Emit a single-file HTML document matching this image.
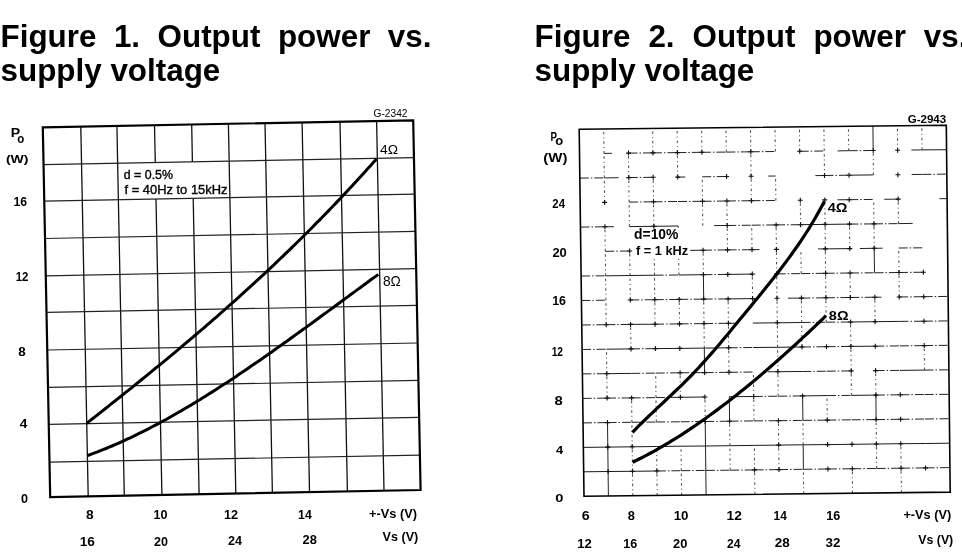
<!DOCTYPE html>
<html><head><meta charset="utf-8">
<style>
html,body{margin:0;padding:0;background:#fff;}
body{width:962px;height:556px;overflow:hidden;position:relative;}
.t{position:absolute;font-family:"Liberation Sans",Arial,sans-serif;font-weight:bold;font-size:31.4px;line-height:34.2px;color:#000;margin:0;white-space:nowrap;}
.r1{display:flex;justify-content:space-between;width:431px;}
svg{position:absolute;left:0;top:0;}
</style></head><body>
<svg width="962" height="556" viewBox="0 0 962 556">
<line x1="80.8" y1="126.6" x2="88.2" y2="496.4" stroke="#111" stroke-width="1.3"/>
<line x1="116.9" y1="125.9" x2="124.3" y2="495.7" stroke="#111" stroke-width="1.3"/>
<line x1="154.5" y1="125.2" x2="155.3" y2="162.6" stroke="#111" stroke-width="1.3"/>
<line x1="156.0" y1="199.0" x2="161.9" y2="495.0" stroke="#111" stroke-width="1.3"/>
<line x1="191.7" y1="124.5" x2="192.4" y2="161.9" stroke="#111" stroke-width="1.3"/>
<line x1="193.2" y1="198.3" x2="199.1" y2="494.2" stroke="#111" stroke-width="1.3"/>
<line x1="228.4" y1="123.8" x2="235.8" y2="493.6" stroke="#111" stroke-width="1.3"/>
<line x1="265.0" y1="123.1" x2="272.4" y2="492.9" stroke="#111" stroke-width="1.3"/>
<line x1="302.1" y1="122.4" x2="309.5" y2="492.1" stroke="#111" stroke-width="1.3"/>
<line x1="340.0" y1="121.7" x2="347.4" y2="491.4" stroke="#111" stroke-width="1.3"/>
<line x1="376.6" y1="121.0" x2="384.0" y2="490.7" stroke="#111" stroke-width="1.3"/>
<line x1="49.5" y1="462.1" x2="419.9" y2="455.1" stroke="#222" stroke-width="1.2"/>
<line x1="48.8" y1="424.3" x2="419.1" y2="417.3" stroke="#222" stroke-width="1.2"/>
<line x1="48.0" y1="387.4" x2="418.4" y2="380.4" stroke="#222" stroke-width="1.2"/>
<line x1="47.3" y1="350.0" x2="417.7" y2="343.0" stroke="#222" stroke-width="1.2"/>
<line x1="46.5" y1="312.4" x2="416.9" y2="305.4" stroke="#222" stroke-width="1.2"/>
<line x1="45.8" y1="275.8" x2="416.2" y2="268.7" stroke="#222" stroke-width="1.2"/>
<line x1="45.1" y1="238.5" x2="415.4" y2="231.4" stroke="#222" stroke-width="1.2"/>
<line x1="44.3" y1="201.1" x2="414.7" y2="194.1" stroke="#222" stroke-width="1.2"/>
<line x1="43.6" y1="164.7" x2="414.0" y2="157.7" stroke="#222" stroke-width="1.2"/>
<polygon points="42.8,127.3 413.2,120.3 420.6,490.0 50.2,497.1" fill="none" stroke="#000" stroke-width="2.2"/>
<path d="M86.8,423.3 L89.8,420.9 L92.8,418.5 L95.9,416.1 L98.9,413.8 L101.9,411.4 L104.9,409.0 L107.9,406.6 L110.9,404.2 L114.0,401.8 L117.0,399.4 L120.0,397.0 L123.0,394.6 L126.0,392.2 L129.0,389.8 L132.1,387.3 L135.1,384.9 L138.1,382.5 L141.1,380.0 L144.1,377.6 L147.2,375.1 L150.2,372.7 L153.2,370.2 L156.2,367.7 L159.2,365.3 L162.2,362.8 L165.3,360.3 L168.3,357.8 L171.3,355.3 L174.3,352.8 L177.3,350.3 L180.3,347.8 L183.4,345.2 L186.4,342.7 L189.4,340.1 L192.4,337.6 L195.4,335.0 L198.5,332.4 L201.5,329.9 L204.5,327.3 L207.5,324.7 L210.5,322.1 L213.5,319.4 L216.6,316.8 L219.6,314.2 L222.6,311.5 L225.6,308.9 L228.6,306.2 L231.6,303.5 L234.7,300.8 L237.7,298.1 L240.7,295.4 L243.7,292.7 L246.7,289.9 L249.8,287.2 L252.8,284.4 L255.8,281.7 L258.8,278.9 L261.8,276.1 L264.8,273.3 L267.9,270.4 L270.9,267.6 L273.9,264.8 L276.9,261.9 L279.9,259.0 L283.0,256.1 L286.0,253.2 L289.0,250.3 L292.0,247.4 L295.0,244.5 L298.0,241.5 L301.1,238.5 L304.1,235.5 L307.1,232.5 L310.1,229.5 L313.1,226.5 L316.1,223.4 L319.2,220.4 L322.2,217.3 L325.2,214.2 L328.2,211.1 L331.2,208.0 L334.3,204.8 L337.3,201.6 L340.3,198.5 L343.3,195.3 L346.3,192.1 L349.3,188.8 L352.4,185.6 L355.4,182.3 L358.4,179.0 L361.4,175.7 L364.4,172.4 L367.4,169.1 L370.5,165.7 L373.5,162.3 L376.5,158.9" fill="none" stroke="#000" stroke-width="3" stroke-linejoin="round"/>
<path d="M87.8,455.5 L90.8,454.4 L93.9,453.2 L96.9,452.1 L99.9,450.9 L102.9,449.7 L106.0,448.5 L109.0,447.2 L112.0,446.0 L115.0,444.7 L118.1,443.3 L121.1,442.0 L124.1,440.6 L127.1,439.2 L130.2,437.8 L133.2,436.4 L136.2,434.9 L139.2,433.4 L142.3,431.9 L145.3,430.4 L148.3,428.9 L151.3,427.3 L154.4,425.7 L157.4,424.1 L160.4,422.5 L163.5,420.8 L166.5,419.2 L169.5,417.5 L172.5,415.8 L175.6,414.0 L178.6,412.3 L181.6,410.6 L184.6,408.8 L187.7,407.0 L190.7,405.2 L193.7,403.4 L196.7,401.5 L199.8,399.7 L202.8,397.8 L205.8,395.9 L208.8,394.0 L211.9,392.1 L214.9,390.2 L217.9,388.3 L220.9,386.3 L224.0,384.3 L227.0,382.4 L230.0,380.4 L233.1,378.4 L236.1,376.4 L239.1,374.3 L242.1,372.3 L245.2,370.3 L248.2,368.2 L251.2,366.1 L254.2,364.1 L257.3,362.0 L260.3,359.9 L263.3,357.8 L266.3,355.7 L269.4,353.5 L272.4,351.4 L275.4,349.3 L278.4,347.1 L281.5,345.0 L284.5,342.8 L287.5,340.7 L290.5,338.5 L293.6,336.3 L296.6,334.1 L299.6,332.0 L302.6,329.8 L305.7,327.6 L308.7,325.4 L311.7,323.2 L314.8,321.0 L317.8,318.8 L320.8,316.5 L323.8,314.3 L326.9,312.1 L329.9,309.9 L332.9,307.7 L335.9,305.5 L339.0,303.2 L342.0,301.0 L345.0,298.8 L348.0,296.6 L351.1,294.3 L354.1,292.1 L357.1,289.9 L360.1,287.7 L363.2,285.5 L366.2,283.3 L369.2,281.0 L372.2,278.8 L375.3,276.6 L378.3,274.4" fill="none" stroke="#000" stroke-width="3" stroke-linejoin="round"/>
<line x1="583.7" y1="471.8" x2="608.1" y2="471.5" stroke="#1a1a1a" stroke-width="1.0"/>
<line x1="608.1" y1="471.5" x2="632.5" y2="471.3" stroke="#1a1a1a" stroke-width="1.0"/>
<line x1="632.5" y1="471.3" x2="656.9" y2="471.0" stroke="#1a1a1a" stroke-width="1.0"/>
<line x1="656.9" y1="471.0" x2="681.3" y2="470.7" stroke="#222" stroke-width="1.0" stroke-dasharray="9 2 1.5 2"/>
<line x1="681.3" y1="470.7" x2="705.8" y2="470.4" stroke="#222" stroke-width="1.0" stroke-dasharray="9 2 1.5 2"/>
<line x1="705.8" y1="470.4" x2="730.2" y2="470.2" stroke="#222" stroke-width="1.0" stroke-dasharray="9 2 1.5 2"/>
<line x1="730.2" y1="470.2" x2="754.6" y2="469.9" stroke="#222" stroke-width="1.0" stroke-dasharray="9 2 1.5 2"/>
<line x1="754.6" y1="469.9" x2="779.0" y2="469.6" stroke="#222" stroke-width="1.0" stroke-dasharray="9 2 1.5 2"/>
<line x1="779.0" y1="469.6" x2="803.4" y2="469.3" stroke="#222" stroke-width="1.0" stroke-dasharray="9 2 1.5 2"/>
<line x1="803.4" y1="469.3" x2="827.9" y2="469.0" stroke="#222" stroke-width="1.0" stroke-dasharray="9 2 1.5 2"/>
<line x1="827.9" y1="469.0" x2="852.3" y2="468.8" stroke="#222" stroke-width="1.0" stroke-dasharray="9 2 1.5 2"/>
<line x1="852.3" y1="468.8" x2="876.7" y2="468.5" stroke="#222" stroke-width="1.0" stroke-dasharray="9 2 1.5 2"/>
<line x1="876.7" y1="468.5" x2="901.1" y2="468.2" stroke="#222" stroke-width="1.0" stroke-dasharray="9 2 1.5 2"/>
<line x1="901.1" y1="468.2" x2="925.5" y2="467.9" stroke="#222" stroke-width="1.0" stroke-dasharray="9 2 1.5 2"/>
<line x1="925.5" y1="467.9" x2="949.9" y2="467.6" stroke="#222" stroke-width="1.0" stroke-dasharray="9 2 1.5 2"/>
<line x1="583.4" y1="447.4" x2="607.8" y2="447.1" stroke="#1a1a1a" stroke-width="1.0"/>
<line x1="607.8" y1="447.1" x2="632.2" y2="446.8" stroke="#1a1a1a" stroke-width="1.0"/>
<line x1="632.2" y1="446.8" x2="656.6" y2="446.5" stroke="#1a1a1a" stroke-width="1.0"/>
<line x1="656.6" y1="446.5" x2="681.0" y2="446.2" stroke="#1a1a1a" stroke-width="1.0"/>
<line x1="681.0" y1="446.2" x2="705.5" y2="446.0" stroke="#1a1a1a" stroke-width="1.0"/>
<line x1="705.5" y1="446.0" x2="729.9" y2="445.7" stroke="#1a1a1a" stroke-width="1.0"/>
<line x1="729.9" y1="445.7" x2="754.3" y2="445.4" stroke="#1a1a1a" stroke-width="1.0"/>
<line x1="754.3" y1="445.4" x2="778.7" y2="445.1" stroke="#1a1a1a" stroke-width="1.0"/>
<line x1="778.7" y1="445.1" x2="803.2" y2="444.8" stroke="#1a1a1a" stroke-width="1.0"/>
<line x1="803.2" y1="444.8" x2="827.6" y2="444.6" stroke="#1a1a1a" stroke-width="1.0"/>
<line x1="827.6" y1="444.6" x2="852.0" y2="444.3" stroke="#1a1a1a" stroke-width="1.0"/>
<line x1="852.0" y1="444.3" x2="876.4" y2="444.0" stroke="#1a1a1a" stroke-width="1.0"/>
<line x1="876.4" y1="444.0" x2="900.8" y2="443.7" stroke="#1a1a1a" stroke-width="1.0"/>
<line x1="900.8" y1="443.7" x2="925.3" y2="443.5" stroke="#1a1a1a" stroke-width="1.0"/>
<line x1="925.3" y1="443.5" x2="949.7" y2="443.2" stroke="#1a1a1a" stroke-width="1.0"/>
<line x1="583.0" y1="422.9" x2="607.5" y2="422.6" stroke="#222" stroke-width="1.0" stroke-dasharray="9 2 1.5 2"/>
<line x1="607.5" y1="422.6" x2="631.9" y2="422.3" stroke="#222" stroke-width="1.0" stroke-dasharray="9 2 1.5 2"/>
<line x1="631.9" y1="422.3" x2="656.3" y2="422.0" stroke="#222" stroke-width="1.0" stroke-dasharray="9 2 1.5 2"/>
<line x1="656.3" y1="422.0" x2="680.7" y2="421.8" stroke="#222" stroke-width="1.0" stroke-dasharray="9 2 1.5 2"/>
<line x1="680.7" y1="421.8" x2="705.2" y2="421.5" stroke="#222" stroke-width="1.0" stroke-dasharray="9 2 1.5 2"/>
<line x1="705.2" y1="421.5" x2="729.6" y2="421.2" stroke="#222" stroke-width="1.0" stroke-dasharray="9 2 1.5 2"/>
<line x1="729.6" y1="421.2" x2="754.0" y2="420.9" stroke="#222" stroke-width="1.0" stroke-dasharray="9 2 1.5 2"/>
<line x1="754.0" y1="420.9" x2="778.4" y2="420.7" stroke="#222" stroke-width="1.0" stroke-dasharray="9 2 1.5 2"/>
<line x1="778.4" y1="420.7" x2="802.9" y2="420.4" stroke="#222" stroke-width="1.0" stroke-dasharray="9 2 1.5 2"/>
<line x1="802.9" y1="420.4" x2="827.3" y2="420.1" stroke="#222" stroke-width="1.0" stroke-dasharray="9 2 1.5 2"/>
<line x1="827.3" y1="420.1" x2="851.7" y2="419.8" stroke="#222" stroke-width="1.0" stroke-dasharray="9 2 1.5 2"/>
<line x1="851.7" y1="419.8" x2="876.1" y2="419.6" stroke="#222" stroke-width="1.0" stroke-dasharray="9 2 1.5 2"/>
<line x1="876.1" y1="419.6" x2="900.6" y2="419.3" stroke="#222" stroke-width="1.0" stroke-dasharray="9 2 1.5 2"/>
<line x1="900.6" y1="419.3" x2="925.0" y2="419.0" stroke="#222" stroke-width="1.0" stroke-dasharray="9 2 1.5 2"/>
<line x1="925.0" y1="419.0" x2="949.4" y2="418.7" stroke="#222" stroke-width="1.0" stroke-dasharray="9 2 1.5 2"/>
<line x1="582.7" y1="398.4" x2="607.1" y2="398.1" stroke="#222" stroke-width="1.0" stroke-dasharray="9 2 1.5 2"/>
<line x1="607.1" y1="398.1" x2="631.6" y2="397.9" stroke="#222" stroke-width="1.0" stroke-dasharray="9 2 1.5 2"/>
<line x1="631.6" y1="397.9" x2="656.0" y2="397.6" stroke="#222" stroke-width="1.0" stroke-dasharray="9 2 1.5 2"/>
<line x1="656.0" y1="397.6" x2="680.4" y2="397.3" stroke="#222" stroke-width="1.0" stroke-dasharray="9 2 1.5 2"/>
<line x1="680.4" y1="397.3" x2="704.9" y2="397.0" stroke="#1a1a1a" stroke-width="1.0"/>
<line x1="729.3" y1="396.7" x2="753.7" y2="396.5" stroke="#1a1a1a" stroke-width="1.0"/>
<line x1="753.7" y1="396.5" x2="778.2" y2="396.2" stroke="#222" stroke-width="1.0" stroke-dasharray="9 2 1.5 2"/>
<line x1="778.2" y1="396.2" x2="802.6" y2="395.9" stroke="#222" stroke-width="1.0" stroke-dasharray="9 2 1.5 2"/>
<line x1="802.6" y1="395.9" x2="827.0" y2="395.6" stroke="#1a1a1a" stroke-width="1.0"/>
<line x1="827.0" y1="395.6" x2="851.4" y2="395.4" stroke="#222" stroke-width="1.0" stroke-dasharray="9 2 1.5 2"/>
<line x1="851.4" y1="395.4" x2="875.9" y2="395.1" stroke="#1a1a1a" stroke-width="1.0"/>
<line x1="875.9" y1="395.1" x2="900.3" y2="394.8" stroke="#222" stroke-width="1.0" stroke-dasharray="9 2 1.5 2"/>
<line x1="900.3" y1="394.8" x2="924.7" y2="394.5" stroke="#222" stroke-width="1.0" stroke-dasharray="9 2 1.5 2"/>
<line x1="924.7" y1="394.5" x2="949.2" y2="394.3" stroke="#222" stroke-width="1.0" stroke-dasharray="9 2 1.5 2"/>
<line x1="582.4" y1="373.9" x2="606.8" y2="373.7" stroke="#222" stroke-width="1.0" stroke-dasharray="9 2 1.5 2"/>
<line x1="606.8" y1="373.7" x2="631.3" y2="373.4" stroke="#1a1a1a" stroke-width="1.0"/>
<line x1="631.3" y1="373.4" x2="655.7" y2="373.1" stroke="#222" stroke-width="1.0" stroke-dasharray="9 2 1.5 2"/>
<line x1="655.7" y1="373.1" x2="680.1" y2="372.8" stroke="#222" stroke-width="1.0" stroke-dasharray="9 2 1.5 2"/>
<line x1="680.1" y1="372.8" x2="704.6" y2="372.6" stroke="#222" stroke-width="1.0" stroke-dasharray="9 2 1.5 2"/>
<line x1="704.6" y1="372.6" x2="729.0" y2="372.3" stroke="#222" stroke-width="1.0" stroke-dasharray="9 2 1.5 2"/>
<line x1="729.0" y1="372.3" x2="753.4" y2="372.0" stroke="#222" stroke-width="1.0" stroke-dasharray="9 2 1.5 2"/>
<line x1="767.7" y1="371.8" x2="777.9" y2="371.7" stroke="#222" stroke-width="1.0"/>
<line x1="777.9" y1="371.7" x2="802.3" y2="371.5" stroke="#1a1a1a" stroke-width="1.0"/>
<line x1="802.3" y1="371.5" x2="826.7" y2="371.2" stroke="#222" stroke-width="1.0" stroke-dasharray="9 2 1.5 2"/>
<line x1="826.7" y1="371.2" x2="851.2" y2="370.9" stroke="#222" stroke-width="1.0" stroke-dasharray="9 2 1.5 2"/>
<line x1="875.6" y1="370.6" x2="900.0" y2="370.4" stroke="#222" stroke-width="1.0" stroke-dasharray="9 2 1.5 2"/>
<line x1="900.0" y1="370.4" x2="924.5" y2="370.1" stroke="#1a1a1a" stroke-width="1.0"/>
<line x1="924.5" y1="370.1" x2="948.9" y2="369.8" stroke="#222" stroke-width="1.0" stroke-dasharray="9 2 1.5 2"/>
<line x1="582.1" y1="349.5" x2="606.5" y2="349.2" stroke="#222" stroke-width="1.0" stroke-dasharray="9 2 1.5 2"/>
<line x1="606.5" y1="349.2" x2="631.0" y2="348.9" stroke="#1a1a1a" stroke-width="1.0"/>
<line x1="631.0" y1="348.9" x2="655.4" y2="348.6" stroke="#222" stroke-width="1.0" stroke-dasharray="9 2 1.5 2"/>
<line x1="655.4" y1="348.6" x2="679.8" y2="348.4" stroke="#1a1a1a" stroke-width="1.0"/>
<line x1="679.8" y1="348.4" x2="704.3" y2="348.1" stroke="#1a1a1a" stroke-width="1.0"/>
<line x1="704.3" y1="348.1" x2="728.7" y2="347.8" stroke="#1a1a1a" stroke-width="1.0"/>
<line x1="728.7" y1="347.8" x2="753.1" y2="347.5" stroke="#222" stroke-width="1.0" stroke-dasharray="9 2 1.5 2"/>
<line x1="753.1" y1="347.5" x2="777.6" y2="347.3" stroke="#1a1a1a" stroke-width="1.0"/>
<line x1="777.6" y1="347.3" x2="802.0" y2="347.0" stroke="#1a1a1a" stroke-width="1.0"/>
<line x1="802.0" y1="347.0" x2="826.5" y2="346.7" stroke="#222" stroke-width="1.0" stroke-dasharray="9 2 1.5 2"/>
<line x1="826.5" y1="346.7" x2="850.9" y2="346.4" stroke="#222" stroke-width="1.0" stroke-dasharray="9 2 1.5 2"/>
<line x1="850.9" y1="346.4" x2="875.3" y2="346.2" stroke="#1a1a1a" stroke-width="1.0"/>
<line x1="875.3" y1="346.2" x2="899.8" y2="345.9" stroke="#222" stroke-width="1.0" stroke-dasharray="9 2 1.5 2"/>
<line x1="899.8" y1="345.9" x2="924.2" y2="345.6" stroke="#222" stroke-width="1.0" stroke-dasharray="9 2 1.5 2"/>
<line x1="924.2" y1="345.6" x2="948.6" y2="345.3" stroke="#222" stroke-width="1.0" stroke-dasharray="9 2 1.5 2"/>
<line x1="581.8" y1="325.0" x2="606.2" y2="324.7" stroke="#222" stroke-width="1.0" stroke-dasharray="9 2 1.5 2"/>
<line x1="606.2" y1="324.7" x2="630.6" y2="324.4" stroke="#222" stroke-width="1.0" stroke-dasharray="9 2 1.5 2"/>
<line x1="630.6" y1="324.4" x2="655.1" y2="324.2" stroke="#1a1a1a" stroke-width="1.0"/>
<line x1="655.1" y1="324.2" x2="679.5" y2="323.9" stroke="#222" stroke-width="1.0" stroke-dasharray="9 2 1.5 2"/>
<line x1="679.5" y1="323.9" x2="704.0" y2="323.6" stroke="#222" stroke-width="1.0" stroke-dasharray="9 2 1.5 2"/>
<line x1="704.0" y1="323.6" x2="728.4" y2="323.3" stroke="#222" stroke-width="1.0" stroke-dasharray="9 2 1.5 2"/>
<line x1="728.4" y1="323.3" x2="735.8" y2="323.3" stroke="#222" stroke-width="1.0"/>
<line x1="752.8" y1="323.1" x2="777.3" y2="322.8" stroke="#1a1a1a" stroke-width="1.0"/>
<line x1="777.3" y1="322.8" x2="801.7" y2="322.5" stroke="#1a1a1a" stroke-width="1.0"/>
<line x1="801.7" y1="322.5" x2="826.2" y2="322.2" stroke="#222" stroke-width="1.0" stroke-dasharray="9 2 1.5 2"/>
<line x1="826.2" y1="322.2" x2="850.6" y2="322.0" stroke="#222" stroke-width="1.0" stroke-dasharray="9 2 1.5 2"/>
<line x1="850.6" y1="322.0" x2="875.1" y2="321.7" stroke="#1a1a1a" stroke-width="1.0"/>
<line x1="875.1" y1="321.7" x2="899.5" y2="321.4" stroke="#1a1a1a" stroke-width="1.0"/>
<line x1="899.5" y1="321.4" x2="923.9" y2="321.2" stroke="#222" stroke-width="1.0" stroke-dasharray="9 2 1.5 2"/>
<line x1="923.9" y1="321.2" x2="948.4" y2="320.9" stroke="#222" stroke-width="1.0" stroke-dasharray="9 2 1.5 2"/>
<line x1="581.4" y1="300.5" x2="605.9" y2="300.2" stroke="#222" stroke-width="1.0" stroke-dasharray="9 2 1.5 2"/>
<line x1="630.3" y1="300.0" x2="654.8" y2="299.7" stroke="#222" stroke-width="1.0" stroke-dasharray="9 2 1.5 2"/>
<line x1="654.8" y1="299.7" x2="679.2" y2="299.4" stroke="#222" stroke-width="1.0" stroke-dasharray="9 2 1.5 2"/>
<line x1="679.2" y1="299.4" x2="703.7" y2="299.1" stroke="#222" stroke-width="1.0" stroke-dasharray="9 2 1.5 2"/>
<line x1="703.7" y1="299.1" x2="728.1" y2="298.9" stroke="#222" stroke-width="1.0" stroke-dasharray="9 2 1.5 2"/>
<line x1="728.1" y1="298.9" x2="752.6" y2="298.6" stroke="#1a1a1a" stroke-width="1.0"/>
<line x1="787.9" y1="298.2" x2="801.4" y2="298.1" stroke="#222" stroke-width="1.0"/>
<line x1="801.4" y1="298.1" x2="825.9" y2="297.8" stroke="#222" stroke-width="1.0" stroke-dasharray="9 2 1.5 2"/>
<line x1="825.9" y1="297.8" x2="850.3" y2="297.5" stroke="#222" stroke-width="1.0" stroke-dasharray="9 2 1.5 2"/>
<line x1="850.3" y1="297.5" x2="874.8" y2="297.2" stroke="#222" stroke-width="1.0" stroke-dasharray="9 2 1.5 2"/>
<line x1="874.8" y1="297.2" x2="881.4" y2="297.2" stroke="#222" stroke-width="1.0"/>
<line x1="899.2" y1="297.0" x2="923.7" y2="296.7" stroke="#222" stroke-width="1.0" stroke-dasharray="9 2 1.5 2"/>
<line x1="923.7" y1="296.7" x2="948.1" y2="296.4" stroke="#222" stroke-width="1.0" stroke-dasharray="9 2 1.5 2"/>
<line x1="581.1" y1="276.0" x2="605.6" y2="275.8" stroke="#222" stroke-width="1.0" stroke-dasharray="9 2 1.5 2"/>
<line x1="605.6" y1="275.8" x2="630.0" y2="275.5" stroke="#1a1a1a" stroke-width="1.0"/>
<line x1="630.0" y1="275.5" x2="654.5" y2="275.2" stroke="#1a1a1a" stroke-width="1.0"/>
<line x1="654.5" y1="275.2" x2="678.9" y2="275.0" stroke="#222" stroke-width="1.0" stroke-dasharray="9 2 1.5 2"/>
<line x1="678.9" y1="275.0" x2="703.4" y2="274.7" stroke="#1a1a1a" stroke-width="1.0"/>
<line x1="703.4" y1="274.7" x2="727.8" y2="274.4" stroke="#222" stroke-width="1.0" stroke-dasharray="9 2 1.5 2"/>
<line x1="727.8" y1="274.4" x2="752.3" y2="274.1" stroke="#1a1a1a" stroke-width="1.0"/>
<line x1="776.7" y1="273.9" x2="801.2" y2="273.6" stroke="#222" stroke-width="1.0" stroke-dasharray="9 2 1.5 2"/>
<line x1="801.2" y1="273.6" x2="825.6" y2="273.3" stroke="#222" stroke-width="1.0" stroke-dasharray="9 2 1.5 2"/>
<line x1="825.6" y1="273.3" x2="850.1" y2="273.0" stroke="#222" stroke-width="1.0" stroke-dasharray="9 2 1.5 2"/>
<line x1="850.1" y1="273.0" x2="874.5" y2="272.8" stroke="#222" stroke-width="1.0" stroke-dasharray="9 2 1.5 2"/>
<line x1="874.5" y1="272.8" x2="899.0" y2="272.5" stroke="#222" stroke-width="1.0" stroke-dasharray="9 2 1.5 2"/>
<line x1="899.0" y1="272.5" x2="923.4" y2="272.2" stroke="#222" stroke-width="1.0" stroke-dasharray="9 2 1.5 2"/>
<line x1="605.3" y1="251.3" x2="629.7" y2="251.0" stroke="#222" stroke-width="1.0" stroke-dasharray="9 2 1.5 2"/>
<line x1="690.2" y1="250.4" x2="703.1" y2="250.2" stroke="#1a1a1a" stroke-width="1.0"/>
<line x1="703.1" y1="250.2" x2="727.5" y2="249.9" stroke="#222" stroke-width="1.0" stroke-dasharray="9 2 1.5 2"/>
<line x1="727.5" y1="249.9" x2="752.0" y2="249.7" stroke="#222" stroke-width="1.0" stroke-dasharray="9 2 1.5 2"/>
<line x1="752.0" y1="249.7" x2="759.5" y2="249.6" stroke="#222" stroke-width="1.0"/>
<line x1="818.0" y1="248.9" x2="825.3" y2="248.9" stroke="#222" stroke-width="1.0"/>
<line x1="825.3" y1="248.9" x2="849.8" y2="248.6" stroke="#1a1a1a" stroke-width="1.0"/>
<line x1="859.8" y1="248.5" x2="874.2" y2="248.3" stroke="#222" stroke-width="1.0"/>
<line x1="874.2" y1="248.3" x2="882.6" y2="248.2" stroke="#222" stroke-width="1.0"/>
<line x1="898.7" y1="248.0" x2="923.1" y2="247.8" stroke="#222" stroke-width="1.0" stroke-dasharray="9 2 1.5 2"/>
<line x1="580.5" y1="227.1" x2="604.9" y2="226.8" stroke="#222" stroke-width="1.0" stroke-dasharray="9 2 1.5 2"/>
<line x1="604.9" y1="226.8" x2="613.9" y2="226.7" stroke="#222" stroke-width="1.0"/>
<line x1="629.4" y1="226.6" x2="653.9" y2="226.3" stroke="#1a1a1a" stroke-width="1.0"/>
<line x1="653.9" y1="226.3" x2="678.3" y2="226.0" stroke="#1a1a1a" stroke-width="1.0"/>
<line x1="714.1" y1="225.6" x2="727.2" y2="225.5" stroke="#222" stroke-width="1.0"/>
<line x1="727.2" y1="225.5" x2="751.7" y2="225.2" stroke="#222" stroke-width="1.0" stroke-dasharray="9 2 1.5 2"/>
<line x1="751.7" y1="225.2" x2="776.1" y2="224.9" stroke="#222" stroke-width="1.0" stroke-dasharray="9 2 1.5 2"/>
<line x1="776.1" y1="224.9" x2="800.6" y2="224.7" stroke="#222" stroke-width="1.0" stroke-dasharray="9 2 1.5 2"/>
<line x1="800.6" y1="224.7" x2="825.1" y2="224.4" stroke="#1a1a1a" stroke-width="1.0"/>
<line x1="825.1" y1="224.4" x2="849.5" y2="224.1" stroke="#1a1a1a" stroke-width="1.0"/>
<line x1="849.5" y1="224.1" x2="874.0" y2="223.9" stroke="#222" stroke-width="1.0" stroke-dasharray="9 2 1.5 2"/>
<line x1="874.0" y1="223.9" x2="898.4" y2="223.6" stroke="#222" stroke-width="1.0" stroke-dasharray="9 2 1.5 2"/>
<line x1="898.4" y1="223.6" x2="912.7" y2="223.4" stroke="#222" stroke-width="1.0"/>
<line x1="629.1" y1="202.1" x2="653.5" y2="201.8" stroke="#222" stroke-width="1.0" stroke-dasharray="9 2 1.5 2"/>
<line x1="653.5" y1="201.8" x2="678.0" y2="201.5" stroke="#222" stroke-width="1.0" stroke-dasharray="9 2 1.5 2"/>
<line x1="678.0" y1="201.5" x2="702.5" y2="201.3" stroke="#222" stroke-width="1.0" stroke-dasharray="9 2 1.5 2"/>
<line x1="702.5" y1="201.3" x2="726.9" y2="201.0" stroke="#222" stroke-width="1.0" stroke-dasharray="9 2 1.5 2"/>
<line x1="726.9" y1="201.0" x2="751.4" y2="200.7" stroke="#222" stroke-width="1.0" stroke-dasharray="9 2 1.5 2"/>
<line x1="751.4" y1="200.7" x2="775.9" y2="200.5" stroke="#222" stroke-width="1.0" stroke-dasharray="9 2 1.5 2"/>
<line x1="837.5" y1="199.8" x2="849.2" y2="199.7" stroke="#222" stroke-width="1.0"/>
<line x1="849.2" y1="199.7" x2="873.7" y2="199.4" stroke="#222" stroke-width="1.0" stroke-dasharray="9 2 1.5 2"/>
<line x1="884.3" y1="199.3" x2="898.2" y2="199.1" stroke="#222" stroke-width="1.0"/>
<line x1="939.4" y1="198.7" x2="947.1" y2="198.6" stroke="#222" stroke-width="1.0"/>
<line x1="579.8" y1="178.1" x2="604.3" y2="177.9" stroke="#222" stroke-width="1.0" stroke-dasharray="9 2 1.5 2"/>
<line x1="604.3" y1="177.9" x2="618.7" y2="177.7" stroke="#222" stroke-width="1.0"/>
<line x1="628.8" y1="177.6" x2="653.2" y2="177.3" stroke="#222" stroke-width="1.0" stroke-dasharray="9 2 1.5 2"/>
<line x1="677.7" y1="177.1" x2="685.3" y2="177.0" stroke="#222" stroke-width="1.0"/>
<line x1="702.2" y1="176.8" x2="726.6" y2="176.5" stroke="#222" stroke-width="1.0" stroke-dasharray="9 2 1.5 2"/>
<line x1="768.2" y1="176.1" x2="775.6" y2="176.0" stroke="#222" stroke-width="1.0"/>
<line x1="815.4" y1="175.6" x2="824.5" y2="175.5" stroke="#222" stroke-width="1.0"/>
<line x1="824.5" y1="175.5" x2="849.0" y2="175.2" stroke="#222" stroke-width="1.0" stroke-dasharray="9 2 1.5 2"/>
<line x1="849.0" y1="175.2" x2="873.4" y2="174.9" stroke="#1a1a1a" stroke-width="1.0"/>
<line x1="911.7" y1="174.5" x2="922.4" y2="174.4" stroke="#222" stroke-width="1.0"/>
<line x1="922.4" y1="174.4" x2="946.8" y2="174.1" stroke="#222" stroke-width="1.0" stroke-dasharray="9 2 1.5 2"/>
<line x1="604.0" y1="153.4" x2="611.9" y2="153.3" stroke="#222" stroke-width="1.0"/>
<line x1="628.5" y1="153.1" x2="652.9" y2="152.9" stroke="#222" stroke-width="1.0" stroke-dasharray="9 2 1.5 2"/>
<line x1="652.9" y1="152.9" x2="677.4" y2="152.6" stroke="#222" stroke-width="1.0" stroke-dasharray="9 2 1.5 2"/>
<line x1="677.4" y1="152.6" x2="701.9" y2="152.3" stroke="#222" stroke-width="1.0" stroke-dasharray="9 2 1.5 2"/>
<line x1="701.9" y1="152.3" x2="726.3" y2="152.1" stroke="#222" stroke-width="1.0" stroke-dasharray="9 2 1.5 2"/>
<line x1="726.3" y1="152.1" x2="750.8" y2="151.8" stroke="#222" stroke-width="1.0" stroke-dasharray="9 2 1.5 2"/>
<line x1="750.8" y1="151.8" x2="775.3" y2="151.5" stroke="#222" stroke-width="1.0" stroke-dasharray="9 2 1.5 2"/>
<line x1="799.7" y1="151.3" x2="824.2" y2="151.0" stroke="#222" stroke-width="1.0" stroke-dasharray="9 2 1.5 2"/>
<line x1="837.6" y1="150.9" x2="848.7" y2="150.7" stroke="#222" stroke-width="1.0"/>
<line x1="848.7" y1="150.7" x2="873.2" y2="150.5" stroke="#222" stroke-width="1.0" stroke-dasharray="9 2 1.5 2"/>
<line x1="911.4" y1="150.0" x2="922.1" y2="149.9" stroke="#222" stroke-width="1.0"/>
<line x1="922.1" y1="149.9" x2="946.6" y2="149.7" stroke="#1a1a1a" stroke-width="1.0"/>
<line x1="608.4" y1="496.0" x2="608.1" y2="471.5" stroke="#222" stroke-width="1.0"/>
<line x1="608.1" y1="471.5" x2="607.8" y2="447.1" stroke="#222" stroke-width="1.0"/>
<line x1="607.8" y1="447.1" x2="607.5" y2="422.6" stroke="#222" stroke-width="1.0"/>
<line x1="607.1" y1="398.1" x2="606.8" y2="373.7" stroke="#444" stroke-width="1.0" stroke-dasharray="2.5 3 1 3"/>
<line x1="606.8" y1="373.7" x2="606.5" y2="349.2" stroke="#444" stroke-width="1.0" stroke-dasharray="2.5 3 1 3"/>
<line x1="606.2" y1="324.7" x2="605.9" y2="300.2" stroke="#444" stroke-width="1.0" stroke-dasharray="2.5 3 1 3"/>
<line x1="605.9" y1="300.2" x2="605.6" y2="275.8" stroke="#444" stroke-width="1.0" stroke-dasharray="2.5 3 1 3"/>
<line x1="605.6" y1="275.8" x2="605.3" y2="251.3" stroke="#444" stroke-width="1.0" stroke-dasharray="2.5 3 1 3"/>
<line x1="605.3" y1="251.3" x2="604.9" y2="226.8" stroke="#444" stroke-width="1.0" stroke-dasharray="2.5 3 1 3"/>
<line x1="604.6" y1="202.4" x2="604.3" y2="177.9" stroke="#444" stroke-width="1.0" stroke-dasharray="2.5 3 1 3"/>
<line x1="604.3" y1="177.9" x2="604.0" y2="153.4" stroke="#444" stroke-width="1.0" stroke-dasharray="2.5 3 1 3"/>
<line x1="604.0" y1="153.4" x2="603.7" y2="128.9" stroke="#444" stroke-width="1.0" stroke-dasharray="2.5 3 1 3"/>
<line x1="632.8" y1="495.7" x2="632.5" y2="471.3" stroke="#444" stroke-width="1.0" stroke-dasharray="2.5 3 1 3"/>
<line x1="632.5" y1="471.3" x2="632.2" y2="446.8" stroke="#444" stroke-width="1.0" stroke-dasharray="2.5 3 1 3"/>
<line x1="632.2" y1="446.8" x2="631.9" y2="422.3" stroke="#444" stroke-width="1.0" stroke-dasharray="2.5 3 1 3"/>
<line x1="631.9" y1="422.3" x2="631.6" y2="397.9" stroke="#444" stroke-width="1.0" stroke-dasharray="2.5 3 1 3"/>
<line x1="631.0" y1="348.9" x2="630.6" y2="324.4" stroke="#444" stroke-width="1.0" stroke-dasharray="2.5 3 1 3"/>
<line x1="630.3" y1="300.0" x2="630.0" y2="275.5" stroke="#444" stroke-width="1.0" stroke-dasharray="2.5 3 1 3"/>
<line x1="630.0" y1="275.5" x2="629.7" y2="251.0" stroke="#444" stroke-width="1.0" stroke-dasharray="2.5 3 1 3"/>
<line x1="629.4" y1="226.6" x2="629.1" y2="202.1" stroke="#444" stroke-width="1.0" stroke-dasharray="2.5 3 1 3"/>
<line x1="629.1" y1="202.1" x2="628.8" y2="177.6" stroke="#444" stroke-width="1.0" stroke-dasharray="2.5 3 1 3"/>
<line x1="628.8" y1="177.6" x2="628.5" y2="153.1" stroke="#444" stroke-width="1.0" stroke-dasharray="2.5 3 1 3"/>
<line x1="657.2" y1="495.5" x2="656.9" y2="471.0" stroke="#444" stroke-width="1.0" stroke-dasharray="2.5 3 1 3"/>
<line x1="656.9" y1="471.0" x2="656.6" y2="446.5" stroke="#444" stroke-width="1.0" stroke-dasharray="2.5 3 1 3"/>
<line x1="656.3" y1="422.0" x2="656.0" y2="397.6" stroke="#444" stroke-width="1.0" stroke-dasharray="2.5 3 1 3"/>
<line x1="656.0" y1="397.6" x2="655.7" y2="373.1" stroke="#444" stroke-width="1.0" stroke-dasharray="2.5 3 1 3"/>
<line x1="655.1" y1="324.2" x2="654.8" y2="299.7" stroke="#444" stroke-width="1.0" stroke-dasharray="2.5 3 1 3"/>
<line x1="654.8" y1="299.7" x2="654.5" y2="275.2" stroke="#444" stroke-width="1.0" stroke-dasharray="2.5 3 1 3"/>
<line x1="654.5" y1="275.2" x2="654.3" y2="258.1" stroke="#444" stroke-width="1.0" stroke-dasharray="2.5 3 1 3"/>
<line x1="653.9" y1="227.5" x2="653.9" y2="226.3" stroke="#444" stroke-width="1.0" stroke-dasharray="2.5 3 1 3"/>
<line x1="653.9" y1="226.3" x2="653.5" y2="201.8" stroke="#444" stroke-width="1.0" stroke-dasharray="2.5 3 1 3"/>
<line x1="653.5" y1="201.8" x2="653.2" y2="177.3" stroke="#444" stroke-width="1.0" stroke-dasharray="2.5 3 1 3"/>
<line x1="652.9" y1="152.9" x2="652.6" y2="128.4" stroke="#444" stroke-width="1.0" stroke-dasharray="2.5 3 1 3"/>
<line x1="681.7" y1="495.2" x2="681.3" y2="470.7" stroke="#444" stroke-width="1.0" stroke-dasharray="2.5 3 1 3"/>
<line x1="681.3" y1="470.7" x2="681.0" y2="446.2" stroke="#444" stroke-width="1.0" stroke-dasharray="2.5 3 1 3"/>
<line x1="680.4" y1="397.3" x2="680.1" y2="372.8" stroke="#444" stroke-width="1.0" stroke-dasharray="2.5 3 1 3"/>
<line x1="679.5" y1="323.9" x2="679.2" y2="299.4" stroke="#444" stroke-width="1.0" stroke-dasharray="2.5 3 1 3"/>
<line x1="678.9" y1="275.0" x2="678.7" y2="258.4" stroke="#444" stroke-width="1.0" stroke-dasharray="2.5 3 1 3"/>
<line x1="678.3" y1="227.8" x2="678.3" y2="226.0" stroke="#444" stroke-width="1.0" stroke-dasharray="2.5 3 1 3"/>
<line x1="677.7" y1="177.1" x2="677.4" y2="152.6" stroke="#444" stroke-width="1.0" stroke-dasharray="2.5 3 1 3"/>
<line x1="677.4" y1="152.6" x2="677.1" y2="128.1" stroke="#444" stroke-width="1.0" stroke-dasharray="2.5 3 1 3"/>
<line x1="706.1" y1="494.9" x2="705.8" y2="470.4" stroke="#222" stroke-width="1.0"/>
<line x1="705.8" y1="470.4" x2="705.5" y2="446.0" stroke="#222" stroke-width="1.0"/>
<line x1="705.5" y1="446.0" x2="705.2" y2="421.5" stroke="#222" stroke-width="1.0"/>
<line x1="705.2" y1="421.5" x2="704.9" y2="397.0" stroke="#444" stroke-width="1.0" stroke-dasharray="2.5 3 1 3"/>
<line x1="704.6" y1="372.6" x2="704.3" y2="348.1" stroke="#222" stroke-width="1.0"/>
<line x1="704.3" y1="348.1" x2="704.0" y2="323.6" stroke="#444" stroke-width="1.0" stroke-dasharray="2.5 3 1 3"/>
<line x1="704.0" y1="323.6" x2="703.7" y2="299.1" stroke="#444" stroke-width="1.0" stroke-dasharray="2.5 3 1 3"/>
<line x1="703.7" y1="299.1" x2="703.4" y2="274.7" stroke="#222" stroke-width="1.0"/>
<line x1="703.4" y1="274.7" x2="703.1" y2="250.2" stroke="#444" stroke-width="1.0" stroke-dasharray="2.5 3 1 3"/>
<line x1="702.8" y1="225.7" x2="702.5" y2="201.3" stroke="#444" stroke-width="1.0" stroke-dasharray="2.5 3 1 3"/>
<line x1="702.5" y1="201.3" x2="702.2" y2="176.8" stroke="#444" stroke-width="1.0" stroke-dasharray="2.5 3 1 3"/>
<line x1="701.9" y1="152.3" x2="701.6" y2="127.9" stroke="#444" stroke-width="1.0" stroke-dasharray="2.5 3 1 3"/>
<line x1="730.2" y1="470.2" x2="729.9" y2="445.7" stroke="#444" stroke-width="1.0" stroke-dasharray="2.5 3 1 3"/>
<line x1="729.9" y1="445.7" x2="729.6" y2="421.2" stroke="#444" stroke-width="1.0" stroke-dasharray="2.5 3 1 3"/>
<line x1="729.6" y1="421.2" x2="729.3" y2="396.7" stroke="#222" stroke-width="1.0"/>
<line x1="729.0" y1="372.3" x2="728.7" y2="347.8" stroke="#444" stroke-width="1.0" stroke-dasharray="2.5 3 1 3"/>
<line x1="728.7" y1="347.8" x2="728.4" y2="323.3" stroke="#444" stroke-width="1.0" stroke-dasharray="2.5 3 1 3"/>
<line x1="728.4" y1="323.3" x2="728.1" y2="298.9" stroke="#444" stroke-width="1.0" stroke-dasharray="2.5 3 1 3"/>
<line x1="727.5" y1="249.9" x2="727.2" y2="225.5" stroke="#444" stroke-width="1.0" stroke-dasharray="2.5 3 1 3"/>
<line x1="727.2" y1="225.5" x2="726.9" y2="201.0" stroke="#444" stroke-width="1.0" stroke-dasharray="2.5 3 1 3"/>
<line x1="726.3" y1="152.1" x2="726.0" y2="127.6" stroke="#444" stroke-width="1.0" stroke-dasharray="2.5 3 1 3"/>
<line x1="754.9" y1="494.3" x2="754.6" y2="469.9" stroke="#444" stroke-width="1.0" stroke-dasharray="2.5 3 1 3"/>
<line x1="754.6" y1="469.9" x2="754.3" y2="445.4" stroke="#444" stroke-width="1.0" stroke-dasharray="2.5 3 1 3"/>
<line x1="754.0" y1="420.9" x2="753.7" y2="396.5" stroke="#444" stroke-width="1.0" stroke-dasharray="2.5 3 1 3"/>
<line x1="753.7" y1="396.5" x2="753.4" y2="372.0" stroke="#444" stroke-width="1.0" stroke-dasharray="2.5 3 1 3"/>
<line x1="752.6" y1="298.6" x2="752.3" y2="274.1" stroke="#444" stroke-width="1.0" stroke-dasharray="2.5 3 1 3"/>
<line x1="752.0" y1="249.7" x2="751.7" y2="225.2" stroke="#444" stroke-width="1.0" stroke-dasharray="2.5 3 1 3"/>
<line x1="751.4" y1="200.7" x2="751.1" y2="176.3" stroke="#444" stroke-width="1.0" stroke-dasharray="2.5 3 1 3"/>
<line x1="751.1" y1="176.3" x2="750.8" y2="151.8" stroke="#444" stroke-width="1.0" stroke-dasharray="2.5 3 1 3"/>
<line x1="750.8" y1="151.8" x2="750.5" y2="127.3" stroke="#444" stroke-width="1.0" stroke-dasharray="2.5 3 1 3"/>
<line x1="779.0" y1="469.6" x2="778.7" y2="445.1" stroke="#444" stroke-width="1.0" stroke-dasharray="2.5 3 1 3"/>
<line x1="778.7" y1="445.1" x2="778.4" y2="420.7" stroke="#444" stroke-width="1.0" stroke-dasharray="2.5 3 1 3"/>
<line x1="778.2" y1="396.2" x2="777.9" y2="371.7" stroke="#444" stroke-width="1.0" stroke-dasharray="2.5 3 1 3"/>
<line x1="777.9" y1="371.7" x2="777.6" y2="347.3" stroke="#444" stroke-width="1.0" stroke-dasharray="2.5 3 1 3"/>
<line x1="777.6" y1="347.3" x2="777.3" y2="322.8" stroke="#444" stroke-width="1.0" stroke-dasharray="2.5 3 1 3"/>
<line x1="777.3" y1="322.8" x2="777.0" y2="298.3" stroke="#444" stroke-width="1.0" stroke-dasharray="2.5 3 1 3"/>
<line x1="777.0" y1="298.3" x2="776.7" y2="273.9" stroke="#444" stroke-width="1.0" stroke-dasharray="2.5 3 1 3"/>
<line x1="776.7" y1="273.9" x2="776.4" y2="249.4" stroke="#444" stroke-width="1.0" stroke-dasharray="2.5 3 1 3"/>
<line x1="776.4" y1="249.4" x2="776.1" y2="224.9" stroke="#444" stroke-width="1.0" stroke-dasharray="2.5 3 1 3"/>
<line x1="775.9" y1="200.5" x2="775.6" y2="176.0" stroke="#444" stroke-width="1.0" stroke-dasharray="2.5 3 1 3"/>
<line x1="775.3" y1="151.5" x2="775.0" y2="127.1" stroke="#444" stroke-width="1.0" stroke-dasharray="2.5 3 1 3"/>
<line x1="803.7" y1="493.8" x2="803.4" y2="469.3" stroke="#444" stroke-width="1.0" stroke-dasharray="2.5 3 1 3"/>
<line x1="803.4" y1="469.3" x2="803.2" y2="444.8" stroke="#222" stroke-width="1.0"/>
<line x1="803.2" y1="444.8" x2="802.9" y2="420.4" stroke="#444" stroke-width="1.0" stroke-dasharray="2.5 3 1 3"/>
<line x1="802.9" y1="420.4" x2="802.6" y2="395.9" stroke="#222" stroke-width="1.0"/>
<line x1="802.0" y1="347.0" x2="801.7" y2="322.5" stroke="#444" stroke-width="1.0" stroke-dasharray="2.5 3 1 3"/>
<line x1="801.7" y1="322.5" x2="801.4" y2="298.1" stroke="#444" stroke-width="1.0" stroke-dasharray="2.5 3 1 3"/>
<line x1="801.2" y1="273.6" x2="800.9" y2="249.1" stroke="#444" stroke-width="1.0" stroke-dasharray="2.5 3 1 3"/>
<line x1="800.6" y1="224.7" x2="800.3" y2="200.2" stroke="#444" stroke-width="1.0" stroke-dasharray="2.5 3 1 3"/>
<line x1="799.7" y1="151.3" x2="799.5" y2="126.8" stroke="#444" stroke-width="1.0" stroke-dasharray="2.5 3 1 3"/>
<line x1="827.3" y1="420.1" x2="827.0" y2="395.6" stroke="#444" stroke-width="1.0" stroke-dasharray="2.5 3 1 3"/>
<line x1="826.2" y1="322.2" x2="825.9" y2="297.8" stroke="#444" stroke-width="1.0" stroke-dasharray="2.5 3 1 3"/>
<line x1="825.9" y1="297.8" x2="825.6" y2="273.3" stroke="#444" stroke-width="1.0" stroke-dasharray="2.5 3 1 3"/>
<line x1="825.6" y1="273.3" x2="825.3" y2="248.9" stroke="#444" stroke-width="1.0" stroke-dasharray="2.5 3 1 3"/>
<line x1="825.3" y1="248.9" x2="825.1" y2="224.4" stroke="#444" stroke-width="1.0" stroke-dasharray="2.5 3 1 3"/>
<line x1="825.1" y1="224.4" x2="824.8" y2="199.9" stroke="#444" stroke-width="1.0" stroke-dasharray="2.5 3 1 3"/>
<line x1="824.5" y1="175.5" x2="824.2" y2="151.0" stroke="#444" stroke-width="1.0" stroke-dasharray="2.5 3 1 3"/>
<line x1="824.2" y1="151.0" x2="823.9" y2="126.5" stroke="#444" stroke-width="1.0" stroke-dasharray="2.5 3 1 3"/>
<line x1="852.5" y1="493.2" x2="852.3" y2="468.8" stroke="#444" stroke-width="1.0" stroke-dasharray="2.5 3 1 3"/>
<line x1="851.4" y1="395.4" x2="851.2" y2="370.9" stroke="#444" stroke-width="1.0" stroke-dasharray="2.5 3 1 3"/>
<line x1="851.2" y1="370.9" x2="850.9" y2="346.4" stroke="#444" stroke-width="1.0" stroke-dasharray="2.5 3 1 3"/>
<line x1="850.9" y1="346.4" x2="850.6" y2="322.0" stroke="#444" stroke-width="1.0" stroke-dasharray="2.5 3 1 3"/>
<line x1="850.3" y1="297.5" x2="850.1" y2="273.0" stroke="#444" stroke-width="1.0" stroke-dasharray="2.5 3 1 3"/>
<line x1="849.8" y1="248.6" x2="849.5" y2="224.1" stroke="#444" stroke-width="1.0" stroke-dasharray="2.5 3 1 3"/>
<line x1="848.7" y1="150.7" x2="848.4" y2="126.3" stroke="#444" stroke-width="1.0" stroke-dasharray="2.5 3 1 3"/>
<line x1="876.7" y1="468.5" x2="876.4" y2="444.0" stroke="#444" stroke-width="1.0" stroke-dasharray="2.5 3 1 3"/>
<line x1="876.4" y1="444.0" x2="876.1" y2="419.6" stroke="#444" stroke-width="1.0" stroke-dasharray="2.5 3 1 3"/>
<line x1="876.1" y1="419.6" x2="875.9" y2="395.1" stroke="#222" stroke-width="1.0"/>
<line x1="875.9" y1="395.1" x2="875.6" y2="370.6" stroke="#444" stroke-width="1.0" stroke-dasharray="2.5 3 1 3"/>
<line x1="875.1" y1="321.7" x2="874.8" y2="297.2" stroke="#444" stroke-width="1.0" stroke-dasharray="2.5 3 1 3"/>
<line x1="874.5" y1="272.8" x2="874.2" y2="248.3" stroke="#222" stroke-width="1.0"/>
<line x1="874.2" y1="248.3" x2="874.0" y2="223.9" stroke="#444" stroke-width="1.0" stroke-dasharray="2.5 3 1 3"/>
<line x1="874.0" y1="223.9" x2="873.7" y2="199.4" stroke="#444" stroke-width="1.0" stroke-dasharray="2.5 3 1 3"/>
<line x1="873.4" y1="174.9" x2="873.2" y2="150.5" stroke="#444" stroke-width="1.0" stroke-dasharray="2.5 3 1 3"/>
<line x1="873.2" y1="150.5" x2="872.9" y2="126.0" stroke="#222" stroke-width="1.0"/>
<line x1="901.4" y1="492.7" x2="901.1" y2="468.2" stroke="#444" stroke-width="1.0" stroke-dasharray="2.5 3 1 3"/>
<line x1="901.1" y1="468.2" x2="900.8" y2="443.7" stroke="#444" stroke-width="1.0" stroke-dasharray="2.5 3 1 3"/>
<line x1="899.2" y1="297.0" x2="899.0" y2="272.5" stroke="#444" stroke-width="1.0" stroke-dasharray="2.5 3 1 3"/>
<line x1="899.0" y1="272.5" x2="898.7" y2="248.0" stroke="#444" stroke-width="1.0" stroke-dasharray="2.5 3 1 3"/>
<line x1="898.4" y1="223.6" x2="898.2" y2="199.1" stroke="#444" stroke-width="1.0" stroke-dasharray="2.5 3 1 3"/>
<line x1="897.6" y1="150.2" x2="897.4" y2="125.7" stroke="#444" stroke-width="1.0" stroke-dasharray="2.5 3 1 3"/>
<line x1="924.5" y1="370.1" x2="924.2" y2="345.6" stroke="#444" stroke-width="1.0" stroke-dasharray="2.5 3 1 3"/>
<line x1="922.1" y1="149.9" x2="921.8" y2="125.5" stroke="#444" stroke-width="1.0" stroke-dasharray="2.5 3 1 3"/>
<path d="M605.6,471.5h5M608.1,469.0v5" stroke="#111" stroke-width="1.1"/>
<path d="M605.3,447.1h5M607.8,444.6v5" stroke="#111" stroke-width="1.1"/>
<path d="M605.0,422.6h5M607.5,420.1v5" stroke="#111" stroke-width="1.1"/>
<path d="M604.6,398.1h5M607.1,395.6v5" stroke="#111" stroke-width="1.1"/>
<path d="M604.3,373.7h5M606.8,371.2v5" stroke="#111" stroke-width="1.1"/>
<path d="M603.7,324.7h5M606.2,322.2v5" stroke="#111" stroke-width="1.1"/>
<path d="M602.4,226.8h5M604.9,224.3v5" stroke="#111" stroke-width="1.1"/>
<path d="M602.1,202.4h5M604.6,199.9v5" stroke="#111" stroke-width="1.1"/>
<path d="M630.0,471.3h5M632.5,468.8v5" stroke="#111" stroke-width="1.1"/>
<path d="M629.7,446.8h5M632.2,444.3v5" stroke="#111" stroke-width="1.1"/>
<path d="M629.1,397.9h5M631.6,395.4v5" stroke="#111" stroke-width="1.1"/>
<path d="M628.5,348.9h5M631.0,346.4v5" stroke="#111" stroke-width="1.1"/>
<path d="M628.1,324.4h5M630.6,321.9v5" stroke="#111" stroke-width="1.1"/>
<path d="M627.8,300.0h5M630.3,297.5v5" stroke="#111" stroke-width="1.1"/>
<path d="M627.2,251.0h5M629.7,248.5v5" stroke="#111" stroke-width="1.1"/>
<path d="M626.3,177.6h5M628.8,175.1v5" stroke="#111" stroke-width="1.1"/>
<path d="M626.0,153.1h5M628.5,150.6v5" stroke="#111" stroke-width="1.1"/>
<path d="M654.4,471.0h5M656.9,468.5v5" stroke="#111" stroke-width="1.1"/>
<path d="M652.9,348.6h5M655.4,346.1v5" stroke="#111" stroke-width="1.1"/>
<path d="M652.6,324.2h5M655.1,321.7v5" stroke="#111" stroke-width="1.1"/>
<path d="M652.3,299.7h5M654.8,297.2v5" stroke="#111" stroke-width="1.1"/>
<path d="M651.4,226.3h5M653.9,223.8v5" stroke="#111" stroke-width="1.1"/>
<path d="M651.0,201.8h5M653.5,199.3v5" stroke="#111" stroke-width="1.1"/>
<path d="M650.7,177.3h5M653.2,174.8v5" stroke="#111" stroke-width="1.1"/>
<path d="M650.4,152.9h5M652.9,150.4v5" stroke="#111" stroke-width="1.1"/>
<path d="M677.9,397.3h5M680.4,394.8v5" stroke="#111" stroke-width="1.1"/>
<path d="M677.6,372.8h5M680.1,370.3v5" stroke="#111" stroke-width="1.1"/>
<path d="M677.3,348.4h5M679.8,345.9v5" stroke="#111" stroke-width="1.1"/>
<path d="M677.0,323.9h5M679.5,321.4v5" stroke="#111" stroke-width="1.1"/>
<path d="M676.7,299.4h5M679.2,296.9v5" stroke="#111" stroke-width="1.1"/>
<path d="M675.2,177.1h5M677.7,174.6v5" stroke="#111" stroke-width="1.1"/>
<path d="M674.9,152.6h5M677.4,150.1v5" stroke="#111" stroke-width="1.1"/>
<path d="M702.7,421.5h5M705.2,419.0v5" stroke="#111" stroke-width="1.1"/>
<path d="M702.4,397.0h5M704.9,394.5v5" stroke="#111" stroke-width="1.1"/>
<path d="M702.1,372.6h5M704.6,370.1v5" stroke="#111" stroke-width="1.1"/>
<path d="M701.5,323.6h5M704.0,321.1v5" stroke="#111" stroke-width="1.1"/>
<path d="M701.2,299.1h5M703.7,296.6v5" stroke="#111" stroke-width="1.1"/>
<path d="M700.9,274.7h5M703.4,272.2v5" stroke="#111" stroke-width="1.1"/>
<path d="M700.6,250.2h5M703.1,247.7v5" stroke="#111" stroke-width="1.1"/>
<path d="M700.0,201.3h5M702.5,198.8v5" stroke="#111" stroke-width="1.1"/>
<path d="M699.4,152.3h5M701.9,149.8v5" stroke="#111" stroke-width="1.1"/>
<path d="M727.1,421.2h5M729.6,418.7v5" stroke="#111" stroke-width="1.1"/>
<path d="M726.5,372.3h5M729.0,369.8v5" stroke="#111" stroke-width="1.1"/>
<path d="M726.2,347.8h5M728.7,345.3v5" stroke="#111" stroke-width="1.1"/>
<path d="M725.9,323.3h5M728.4,320.8v5" stroke="#111" stroke-width="1.1"/>
<path d="M725.6,298.9h5M728.1,296.4v5" stroke="#111" stroke-width="1.1"/>
<path d="M725.3,274.4h5M727.8,271.9v5" stroke="#111" stroke-width="1.1"/>
<path d="M725.0,249.9h5M727.5,247.4v5" stroke="#111" stroke-width="1.1"/>
<path d="M724.7,225.5h5M727.2,223.0v5" stroke="#111" stroke-width="1.1"/>
<path d="M724.4,201.0h5M726.9,198.5v5" stroke="#111" stroke-width="1.1"/>
<path d="M724.1,176.5h5M726.6,174.0v5" stroke="#111" stroke-width="1.1"/>
<path d="M752.1,469.9h5M754.6,467.4v5" stroke="#111" stroke-width="1.1"/>
<path d="M751.2,396.5h5M753.7,394.0v5" stroke="#111" stroke-width="1.1"/>
<path d="M750.1,298.6h5M752.6,296.1v5" stroke="#111" stroke-width="1.1"/>
<path d="M749.8,274.1h5M752.3,271.6v5" stroke="#111" stroke-width="1.1"/>
<path d="M749.5,249.7h5M752.0,247.2v5" stroke="#111" stroke-width="1.1"/>
<path d="M748.9,200.7h5M751.4,198.2v5" stroke="#111" stroke-width="1.1"/>
<path d="M748.6,176.3h5M751.1,173.8v5" stroke="#111" stroke-width="1.1"/>
<path d="M748.3,151.8h5M750.8,149.3v5" stroke="#111" stroke-width="1.1"/>
<path d="M776.5,469.6h5M779.0,467.1v5" stroke="#111" stroke-width="1.1"/>
<path d="M776.2,445.1h5M778.7,442.6v5" stroke="#111" stroke-width="1.1"/>
<path d="M775.9,420.7h5M778.4,418.2v5" stroke="#111" stroke-width="1.1"/>
<path d="M775.4,371.7h5M777.9,369.2v5" stroke="#111" stroke-width="1.1"/>
<path d="M774.8,322.8h5M777.3,320.3v5" stroke="#111" stroke-width="1.1"/>
<path d="M774.5,298.3h5M777.0,295.8v5" stroke="#111" stroke-width="1.1"/>
<path d="M774.2,273.9h5M776.7,271.4v5" stroke="#111" stroke-width="1.1"/>
<path d="M773.9,249.4h5M776.4,246.9v5" stroke="#111" stroke-width="1.1"/>
<path d="M773.6,224.9h5M776.1,222.4v5" stroke="#111" stroke-width="1.1"/>
<path d="M800.1,395.9h5M802.6,393.4v5" stroke="#111" stroke-width="1.1"/>
<path d="M799.5,347.0h5M802.0,344.5v5" stroke="#111" stroke-width="1.1"/>
<path d="M798.9,298.1h5M801.4,295.6v5" stroke="#111" stroke-width="1.1"/>
<path d="M798.1,224.7h5M800.6,222.2v5" stroke="#111" stroke-width="1.1"/>
<path d="M797.8,200.2h5M800.3,197.7v5" stroke="#111" stroke-width="1.1"/>
<path d="M797.2,151.3h5M799.7,148.8v5" stroke="#111" stroke-width="1.1"/>
<path d="M825.4,469.0h5M827.9,466.5v5" stroke="#111" stroke-width="1.1"/>
<path d="M825.1,444.6h5M827.6,442.1v5" stroke="#111" stroke-width="1.1"/>
<path d="M824.8,420.1h5M827.3,417.6v5" stroke="#111" stroke-width="1.1"/>
<path d="M824.0,346.7h5M826.5,344.2v5" stroke="#111" stroke-width="1.1"/>
<path d="M823.4,297.8h5M825.9,295.3v5" stroke="#111" stroke-width="1.1"/>
<path d="M823.1,273.3h5M825.6,270.8v5" stroke="#111" stroke-width="1.1"/>
<path d="M822.8,248.9h5M825.3,246.4v5" stroke="#111" stroke-width="1.1"/>
<path d="M822.6,224.4h5M825.1,221.9v5" stroke="#111" stroke-width="1.1"/>
<path d="M822.3,199.9h5M824.8,197.4v5" stroke="#111" stroke-width="1.1"/>
<path d="M822.0,175.5h5M824.5,173.0v5" stroke="#111" stroke-width="1.1"/>
<path d="M849.8,468.8h5M852.3,466.3v5" stroke="#111" stroke-width="1.1"/>
<path d="M849.5,444.3h5M852.0,441.8v5" stroke="#111" stroke-width="1.1"/>
<path d="M848.7,370.9h5M851.2,368.4v5" stroke="#111" stroke-width="1.1"/>
<path d="M848.4,346.4h5M850.9,343.9v5" stroke="#111" stroke-width="1.1"/>
<path d="M848.1,322.0h5M850.6,319.5v5" stroke="#111" stroke-width="1.1"/>
<path d="M847.8,297.5h5M850.3,295.0v5" stroke="#111" stroke-width="1.1"/>
<path d="M847.6,273.0h5M850.1,270.5v5" stroke="#111" stroke-width="1.1"/>
<path d="M847.3,248.6h5M849.8,246.1v5" stroke="#111" stroke-width="1.1"/>
<path d="M847.0,224.1h5M849.5,221.6v5" stroke="#111" stroke-width="1.1"/>
<path d="M846.7,199.7h5M849.2,197.2v5" stroke="#111" stroke-width="1.1"/>
<path d="M846.5,175.2h5M849.0,172.7v5" stroke="#111" stroke-width="1.1"/>
<path d="M873.9,444.0h5M876.4,441.5v5" stroke="#111" stroke-width="1.1"/>
<path d="M873.6,419.6h5M876.1,417.1v5" stroke="#111" stroke-width="1.1"/>
<path d="M873.4,395.1h5M875.9,392.6v5" stroke="#111" stroke-width="1.1"/>
<path d="M873.1,370.6h5M875.6,368.1v5" stroke="#111" stroke-width="1.1"/>
<path d="M872.8,346.2h5M875.3,343.7v5" stroke="#111" stroke-width="1.1"/>
<path d="M872.6,321.7h5M875.1,319.2v5" stroke="#111" stroke-width="1.1"/>
<path d="M872.3,297.2h5M874.8,294.7v5" stroke="#111" stroke-width="1.1"/>
<path d="M871.7,248.3h5M874.2,245.8v5" stroke="#111" stroke-width="1.1"/>
<path d="M871.5,223.9h5M874.0,221.4v5" stroke="#111" stroke-width="1.1"/>
<path d="M870.7,150.5h5M873.2,148.0v5" stroke="#111" stroke-width="1.1"/>
<path d="M898.6,468.2h5M901.1,465.7v5" stroke="#111" stroke-width="1.1"/>
<path d="M898.3,443.7h5M900.8,441.2v5" stroke="#111" stroke-width="1.1"/>
<path d="M898.1,419.3h5M900.6,416.8v5" stroke="#111" stroke-width="1.1"/>
<path d="M897.8,394.8h5M900.3,392.3v5" stroke="#111" stroke-width="1.1"/>
<path d="M896.7,297.0h5M899.2,294.5v5" stroke="#111" stroke-width="1.1"/>
<path d="M896.5,272.5h5M899.0,270.0v5" stroke="#111" stroke-width="1.1"/>
<path d="M895.7,199.1h5M898.2,196.6v5" stroke="#111" stroke-width="1.1"/>
<path d="M895.4,174.7h5M897.9,172.2v5" stroke="#111" stroke-width="1.1"/>
<path d="M895.1,150.2h5M897.6,147.7v5" stroke="#111" stroke-width="1.1"/>
<path d="M923.0,467.9h5M925.5,465.4v5" stroke="#111" stroke-width="1.1"/>
<path d="M921.7,345.6h5M924.2,343.1v5" stroke="#111" stroke-width="1.1"/>
<path d="M921.4,321.2h5M923.9,318.7v5" stroke="#111" stroke-width="1.1"/>
<path d="M921.2,296.7h5M923.7,294.2v5" stroke="#111" stroke-width="1.1"/>
<path d="M920.9,272.2h5M923.4,269.7v5" stroke="#111" stroke-width="1.1"/>
<polygon points="579.2,129.2 946.3,125.2 950.2,492.1 584.0,496.3" fill="none" stroke="#000" stroke-width="1.6"/>
<path d="M632.4,432.3 L635.4,429.3 L638.4,426.2 L641.4,423.3 L644.4,420.3 L647.4,417.5 L650.4,414.6 L653.4,411.8 L656.4,408.9 L659.4,406.1 L662.4,403.3 L665.4,400.5 L668.4,397.7 L671.4,394.9 L674.4,392.0 L677.4,389.2 L680.4,386.3 L683.4,383.4 L686.4,380.4 L689.4,377.4 L692.4,374.3 L695.4,371.2 L698.4,368.0 L701.4,364.7 L704.4,361.4 L707.4,358.0 L710.4,354.6 L713.4,351.2 L716.4,347.7 L719.4,344.2 L722.4,340.6 L725.4,337.0 L728.4,333.4 L731.4,329.8 L734.4,326.1 L737.4,322.5 L740.4,318.8 L743.4,315.2 L746.4,311.5 L749.4,307.9 L752.4,304.2 L755.4,300.6 L758.4,296.9 L761.4,293.2 L764.4,289.5 L767.4,285.8 L770.4,282.1 L773.4,278.3 L776.4,274.4 L779.4,270.6 L782.4,266.6 L785.4,262.6 L788.4,258.6 L791.4,254.5 L794.4,250.3 L797.4,246.0 L800.4,241.7 L803.4,237.2 L806.4,232.5 L809.4,227.8 L812.4,222.8 L815.4,217.7 L818.4,212.4 L821.4,206.9 L824.4,201.2" fill="none" stroke="#000" stroke-width="3.2" stroke-linejoin="round"/>
<path d="M632.6,462.3 L635.6,460.8 L638.6,459.3 L641.7,457.8 L644.7,456.2 L647.7,454.6 L650.7,453.0 L653.8,451.3 L656.8,449.6 L659.8,447.9 L662.8,446.2 L665.8,444.4 L668.9,442.6 L671.9,440.7 L674.9,438.9 L677.9,437.0 L681.0,435.1 L684.0,433.1 L687.0,431.1 L690.0,429.1 L693.0,427.1 L696.1,425.0 L699.1,422.9 L702.1,420.8 L705.1,418.7 L708.1,416.5 L711.2,414.3 L714.2,412.1 L717.2,409.9 L720.2,407.6 L723.3,405.3 L726.3,403.0 L729.3,400.7 L732.3,398.3 L735.3,396.0 L738.4,393.6 L741.4,391.1 L744.4,388.7 L747.4,386.2 L750.5,383.7 L753.5,381.2 L756.5,378.7 L759.5,376.2 L762.5,373.6 L765.6,371.0 L768.6,368.4 L771.6,365.8 L774.6,363.1 L777.6,360.5 L780.7,357.8 L783.7,355.1 L786.7,352.4 L789.7,349.7 L792.8,346.9 L795.8,344.2 L798.8,341.4 L801.8,338.6 L804.8,335.8 L807.9,333.0 L810.9,330.1 L813.9,327.3 L816.9,324.4 L820.0,321.5 L823.0,318.6 L826.0,315.7" fill="none" stroke="#000" stroke-width="3.2" stroke-linejoin="round"/>
<g font-family="Liberation Sans, Arial, sans-serif" fill="#000"><text x="10.85" y="136.60" font-size="11.94" font-weight="bold" textLength="9.39" lengthAdjust="spacingAndGlyphs" xml:space="preserve">P</text>
<text x="17.33" y="143.20" font-size="12.73" font-weight="bold" textLength="7.05" lengthAdjust="spacingAndGlyphs" xml:space="preserve">o</text>
<text x="5.91" y="162.66" font-size="10.55" font-weight="bold" textLength="22.61" lengthAdjust="spacingAndGlyphs" xml:space="preserve">(W)</text>
<text x="13.50" y="205.62" font-size="13.60" font-weight="bold" textLength="13.63" lengthAdjust="spacingAndGlyphs" xml:space="preserve">16</text>
<text x="15.75" y="280.60" font-size="13.60" font-weight="bold" textLength="12.68" lengthAdjust="spacingAndGlyphs" xml:space="preserve">12</text>
<text x="18.32" y="356.35" font-size="13.60" font-weight="bold" textLength="7.45" lengthAdjust="spacingAndGlyphs" xml:space="preserve">8</text>
<text x="19.87" y="428.27" font-size="13.60" font-weight="bold" textLength="7.59" lengthAdjust="spacingAndGlyphs" xml:space="preserve">4</text>
<text x="21.00" y="503.03" font-size="13.60" font-weight="bold" textLength="7.00" lengthAdjust="spacingAndGlyphs" xml:space="preserve">0</text>
<text x="373.55" y="116.54" font-size="11.49" font-weight="normal" textLength="33.93" lengthAdjust="spacingAndGlyphs" xml:space="preserve">G-2342</text>
<text x="380.00" y="154.40" font-size="12.50" font-weight="normal" textLength="18.00" lengthAdjust="spacingAndGlyphs" xml:space="preserve">4Ω</text>
<text x="382.98" y="285.68" font-size="14.40" font-weight="normal" textLength="17.86" lengthAdjust="spacingAndGlyphs" xml:space="preserve">8Ω</text>
<text x="123.75" y="178.80" font-size="11.97" font-weight="normal" textLength="49.24" lengthAdjust="spacingAndGlyphs" xml:space="preserve" stroke="#000" stroke-width="0.35">d = 0.5%</text>
<text x="124.55" y="193.70" font-size="12.22" font-weight="normal" textLength="102.91" lengthAdjust="spacingAndGlyphs" xml:space="preserve" stroke="#000" stroke-width="0.35">f = 40Hz to 15kHz</text>
<text x="86.00" y="518.92" font-size="13.30" font-weight="bold" textLength="7.63" lengthAdjust="spacingAndGlyphs" xml:space="preserve">8</text>
<text x="153.55" y="519.24" font-size="13.30" font-weight="bold" textLength="13.97" lengthAdjust="spacingAndGlyphs" xml:space="preserve">10</text>
<text x="223.91" y="519.11" font-size="13.30" font-weight="bold" textLength="14.11" lengthAdjust="spacingAndGlyphs" xml:space="preserve">12</text>
<text x="298.10" y="519.00" font-size="13.30" font-weight="bold" textLength="13.67" lengthAdjust="spacingAndGlyphs" xml:space="preserve">14</text>
<text x="369.10" y="518.10" font-size="13.30" font-weight="bold" textLength="47.81" lengthAdjust="spacingAndGlyphs" xml:space="preserve">+-Vs (V)</text>
<text x="79.67" y="545.75" font-size="13.30" font-weight="bold" textLength="15.15" lengthAdjust="spacingAndGlyphs" xml:space="preserve">16</text>
<text x="154.00" y="545.75" font-size="13.30" font-weight="bold" textLength="14.00" lengthAdjust="spacingAndGlyphs" xml:space="preserve">20</text>
<text x="228.00" y="545.07" font-size="13.30" font-weight="bold" textLength="14.00" lengthAdjust="spacingAndGlyphs" xml:space="preserve">24</text>
<text x="302.51" y="543.73" font-size="13.30" font-weight="bold" textLength="14.30" lengthAdjust="spacingAndGlyphs" xml:space="preserve">28</text>
<text x="382.48" y="541.30" font-size="13.30" font-weight="bold" textLength="35.84" lengthAdjust="spacingAndGlyphs" xml:space="preserve">Vs (V)</text>
<text x="550.53" y="140.97" font-size="13.32" font-weight="bold" textLength="6.47" lengthAdjust="spacingAndGlyphs" xml:space="preserve">P</text>
<text x="555.32" y="144.60" font-size="13.51" font-weight="bold" textLength="7.97" lengthAdjust="spacingAndGlyphs" xml:space="preserve">o</text>
<text x="543.38" y="162.12" font-size="13.08" font-weight="bold" textLength="24.15" lengthAdjust="spacingAndGlyphs" xml:space="preserve">(W)</text>
<text x="552.33" y="207.96" font-size="13.30" font-weight="bold" textLength="12.66" lengthAdjust="spacingAndGlyphs" xml:space="preserve">24</text>
<text x="552.38" y="257.03" font-size="13.30" font-weight="bold" textLength="14.45" lengthAdjust="spacingAndGlyphs" xml:space="preserve">20</text>
<text x="552.15" y="304.90" font-size="13.30" font-weight="bold" textLength="13.78" lengthAdjust="spacingAndGlyphs" xml:space="preserve">16</text>
<text x="551.67" y="356.15" font-size="13.30" font-weight="bold" textLength="11.36" lengthAdjust="spacingAndGlyphs" xml:space="preserve">12</text>
<text x="554.42" y="405.39" font-size="12.30" font-weight="bold" textLength="8.23" lengthAdjust="spacingAndGlyphs" xml:space="preserve">8</text>
<text x="555.96" y="454.09" font-size="11.50" font-weight="bold" textLength="7.16" lengthAdjust="spacingAndGlyphs" xml:space="preserve">4</text>
<text x="555.20" y="502.00" font-size="11.50" font-weight="bold" textLength="8.18" lengthAdjust="spacingAndGlyphs" xml:space="preserve">0</text>
<text x="907.75" y="123.23" font-size="11.20" font-weight="bold" textLength="38.41" lengthAdjust="spacingAndGlyphs" xml:space="preserve">G-2943</text>
<text x="827.67" y="211.65" font-size="12.59" font-weight="bold" textLength="19.68" lengthAdjust="spacingAndGlyphs" xml:space="preserve">4Ω</text>
<text x="828.89" y="319.66" font-size="12.35" font-weight="bold" textLength="19.68" lengthAdjust="spacingAndGlyphs" xml:space="preserve">8Ω</text>
<text x="634.04" y="239.48" font-size="14.31" font-weight="bold" textLength="44.40" lengthAdjust="spacingAndGlyphs" xml:space="preserve">d=10%</text>
<text x="636.02" y="254.64" font-size="12.75" font-weight="bold" textLength="52.18" lengthAdjust="spacingAndGlyphs" xml:space="preserve">f = 1 kHz</text>
<text x="581.80" y="519.62" font-size="13.30" font-weight="bold" textLength="7.90" lengthAdjust="spacingAndGlyphs" xml:space="preserve">6</text>
<text x="627.75" y="520.16" font-size="13.30" font-weight="bold" textLength="7.15" lengthAdjust="spacingAndGlyphs" xml:space="preserve">8</text>
<text x="673.67" y="519.80" font-size="13.30" font-weight="bold" textLength="14.80" lengthAdjust="spacingAndGlyphs" xml:space="preserve">10</text>
<text x="726.63" y="519.62" font-size="13.30" font-weight="bold" textLength="15.28" lengthAdjust="spacingAndGlyphs" xml:space="preserve">12</text>
<text x="773.58" y="519.77" font-size="13.30" font-weight="bold" textLength="13.25" lengthAdjust="spacingAndGlyphs" xml:space="preserve">14</text>
<text x="826.17" y="520.00" font-size="13.30" font-weight="bold" textLength="13.97" lengthAdjust="spacingAndGlyphs" xml:space="preserve">16</text>
<text x="903.44" y="518.79" font-size="13.30" font-weight="bold" textLength="47.72" lengthAdjust="spacingAndGlyphs" xml:space="preserve">+-Vs (V)</text>
<text x="577.18" y="547.84" font-size="13.30" font-weight="bold" textLength="14.57" lengthAdjust="spacingAndGlyphs" xml:space="preserve">12</text>
<text x="623.28" y="547.53" font-size="13.30" font-weight="bold" textLength="14.01" lengthAdjust="spacingAndGlyphs" xml:space="preserve">16</text>
<text x="673.07" y="547.57" font-size="13.30" font-weight="bold" textLength="14.32" lengthAdjust="spacingAndGlyphs" xml:space="preserve">20</text>
<text x="726.99" y="547.84" font-size="13.30" font-weight="bold" textLength="13.48" lengthAdjust="spacingAndGlyphs" xml:space="preserve">24</text>
<text x="774.88" y="546.75" font-size="13.30" font-weight="bold" textLength="14.99" lengthAdjust="spacingAndGlyphs" xml:space="preserve">28</text>
<text x="825.61" y="546.57" font-size="13.30" font-weight="bold" textLength="14.87" lengthAdjust="spacingAndGlyphs" xml:space="preserve">32</text>
<text x="918.27" y="544.28" font-size="13.30" font-weight="bold" textLength="34.96" lengthAdjust="spacingAndGlyphs" xml:space="preserve">Vs (V)</text></g>
</svg>
<div class="t" style="left:0.5px;top:20px;"><div class="r1"><span>Figure</span><span>1.</span><span>Output</span><span>power</span><span>vs.</span></div><div>supply voltage</div></div>
<div class="t" style="left:534.5px;top:20px;"><div class="r1" style="width:433px"><span>Figure</span><span>2.</span><span>Output</span><span>power</span><span>vs.</span></div><div>supply voltage</div></div>
</body></html>
